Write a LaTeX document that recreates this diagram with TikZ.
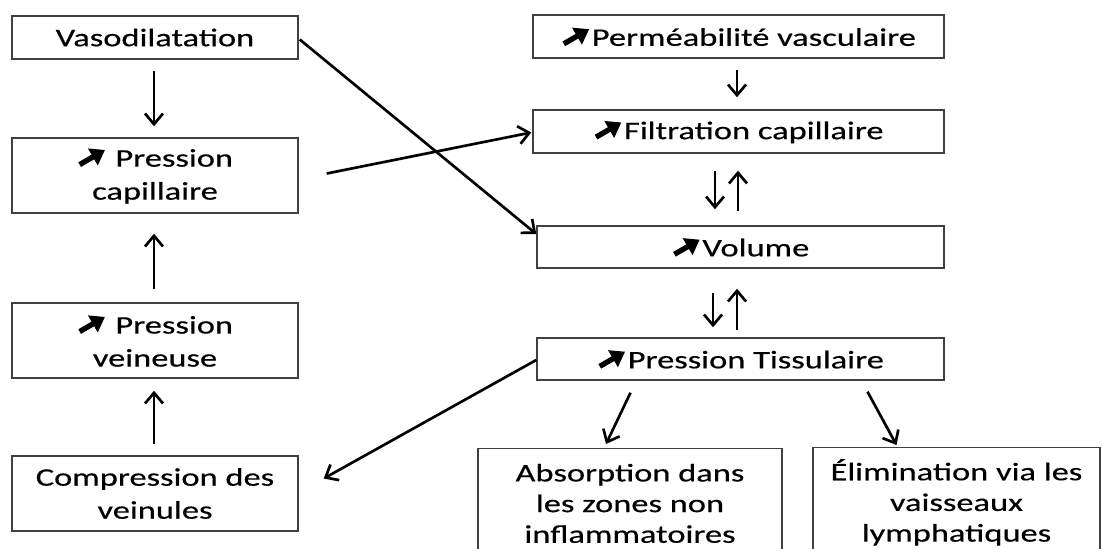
\documentclass[tikz,border=0pt]{standalone}
\usepackage{fontspec}
\setmainfont{Carlito}[FakeStretch=1.36,FakeBold=0.4,AutoFakeBold=0.4]
\usetikzlibrary{arrows.meta,calc}
\newcommand{\hausse}{\tikz[baseline=0pt]\draw[line width=4pt,-{Triangle[length=10.5pt,width=14pt]}] (2pt,1.5pt) -- (21pt,12.5pt);}

\begin{document}
\begin{tikzpicture}[x=0.75pt,y=0.75pt,yscale=-1,xscale=1,
  boite/.style={draw={rgb,255:red,64;green,64;blue,64},line width=1.1pt,inner sep=0.75pt,align=center,text=black,font=\fontsize{19}{24.75}\selectfont},
  gauche/.style={boite,minimum width=214.5pt,minimum height=56.25pt},
  droite/.style={boite,minimum width=305.25pt,minimum height=31.5pt},
  bas/.style={boite,anchor=north,minimum height=82pt,font=\fontsize{19}{23}\selectfont},
  fleche/.style={draw=black,line width=2pt,-{Straight Barb[length=8pt,width=13.5pt]}}]
\useasboundingbox (0,0) rectangle (1103,549);
\clip (0,0) rectangle (1103,549);

%Shape: Rectangle (left column)
\draw (155,37.5) node [gauche,minimum height=32.25pt] (vaso) {Vasodilatation};
\draw (155,175.5) node [gauche] (pcap) {\hausse{} Pression\\capillaire};
\draw (155,340.5) node [gauche] (pvein) {\hausse{} Pression\\veineuse};
\draw (155,493.5) node [gauche] (compr) {Compression des\\veinules};

%Shape: Rectangle (right column)
\draw (738.5,36.5) node [droite,minimum width=308.25pt,minimum height=32.25pt] (perm) {\hausse Perméabilité vasculaire};
\draw (738.5,131.5) node [droite,minimum width=308.25pt,minimum height=32.25pt] (filt) {\hausse Filtration capillaire};
\draw (740.5,247) node [droite] (vol) {\hausse Volume};
\draw (740.5,359) node [droite] (ptis) {\hausse Pression Tissulaire};
\draw (630,448) node [bas,minimum width=228pt] (absorp) {Absorption dans\\les zones non\\inflammatoires};
\draw (956.5,447) node [bas,minimum width=215.25pt] (elim) {Élimination via les\\vaisseaux\\lymphatiques};

%Straight Lines (left column)
\draw [fleche] ($(vaso.south)+(-1,11)$) -- ($(pcap.north)+(-1,-11)$);
\draw [fleche] ($(pvein.north)+(-1,-13)$) -- ($(pcap.south)+(-1,20)$);
\draw [fleche] ($(compr.north)+(-1,-11)$) -- ($(pvein.south)+(-1,12)$);

%Straight Lines (right column)
\draw [fleche] ($(perm.south)+(-1.5,11)$) -- ($(filt.north)+(-1.5,-12)$);
\draw [fleche] ($(filt.south)+(-23.5,17)$) -- ($(vol.north)+(-25.5,-16)$);
\draw [fleche] ($(vol.north)+(-2.5,-14)$) -- ($(filt.south)+(-0.5,17)$);
\draw [fleche] ($(vol.south)+(-27.5,24)$) -- ($(ptis.north)+(-27.5,-10)$);
\draw [fleche] ($(ptis.north)+(-3.5,-7)$) -- ($(vol.south)+(-3.5,20)$);

%Straight Lines (crossing)
\draw [fleche] ($(vaso.east)+(1,2)$) -- ($(vol.west)+(0,-13)$);
\draw [fleche] ($(pcap.east)+(28,-2)$) -- ($(filt.west)+(-1,1)$);
\draw [fleche] ($(ptis.west)+(0,1)$) -- ($(compr.east)+(25,-15)$);
\draw [fleche] ($(ptis.south)+(-110,12)$) -- ($(absorp.north)+(-24,-4)$);
\draw [fleche] ($(ptis.south)+(127,11)$) -- ($(elim.north)+(-60,-2)$);
\end{tikzpicture}
\end{document}
